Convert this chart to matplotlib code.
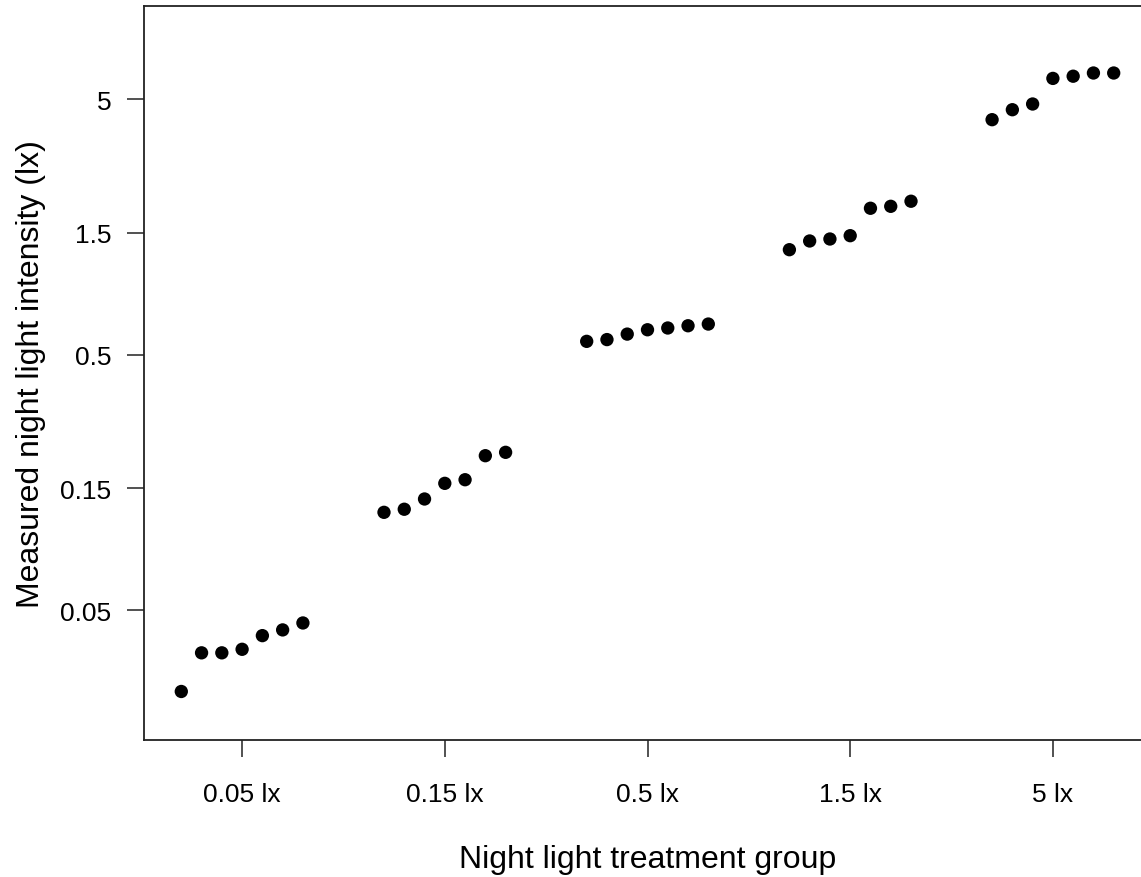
import numpy as np
import matplotlib.pyplot as plt

plt.rcParams['font.family'] = ['Liberation Sans', 'DejaVu Sans']

groups = ["0.05 lx", "0.15 lx", "0.5 lx", "1.5 lx", "5 lx"]
offsets = [-0.3, -0.2, -0.1, 0.0, 0.1, 0.2, 0.3]

lux_005 = [0.0240, 0.0340, 0.0340, 0.0351, 0.0397, 0.0418, 0.0445]
lux_015 = [0.1206, 0.1240, 0.1360, 0.1566, 0.1618, 0.2009, 0.2071]
lux_05 = [0.563, 0.572, 0.601, 0.625, 0.635, 0.648, 0.658]
lux_15 = [1.286, 1.391, 1.416, 1.459, 1.868, 1.901, 1.990]
lux_5 = [4.15, 4.54, 4.78, 6.02, 6.14, 6.32, 6.32]
measured = [lux_005, lux_015, lux_05, lux_15, lux_5]

y_ticks = [0.05, 0.15, 0.5, 1.5, 5]
y_labels = ["0.05", "0.15", "0.5", "1.5", "5"]

W, H = 1141, 878
fig = plt.figure(figsize=(W / 100, H / 100), dpi=100)
ax = fig.add_axes([144 / W, (H - 741) / H, 1007 / W, 734 / H])

for i, vals in enumerate(measured):
    xs = [i + 1 + o for o in offsets]
    ax.scatter(xs, vals, s=92, color='black', edgecolors='none', zorder=3)

ax.set_yscale('log')
ax.set_xlim(0.516, 5.484)
ax.set_ylim(0.0155, 11.56)

ax.set_xticks(range(1, 6))
ax.set_xticklabels(groups)
ax.set_yticks(y_ticks)
ax.set_yticklabels(y_labels)
ax.minorticks_off()

ax.tick_params(axis='both', length=12.5, width=1.2, labelsize=19, color='#333333')
ax.tick_params(axis='x', pad=18)
ax.tick_params(axis='y', pad=11)
for sp in ax.spines.values():
    sp.set_linewidth(1.3)
    sp.set_color('#222222')

ax.set_xlabel("Night light treatment group", fontsize=23, labelpad=27)
ax.set_ylabel("Measured night light intensity (lx)", fontsize=23, labelpad=10)

fig.savefig("out.png", dpi=100)
